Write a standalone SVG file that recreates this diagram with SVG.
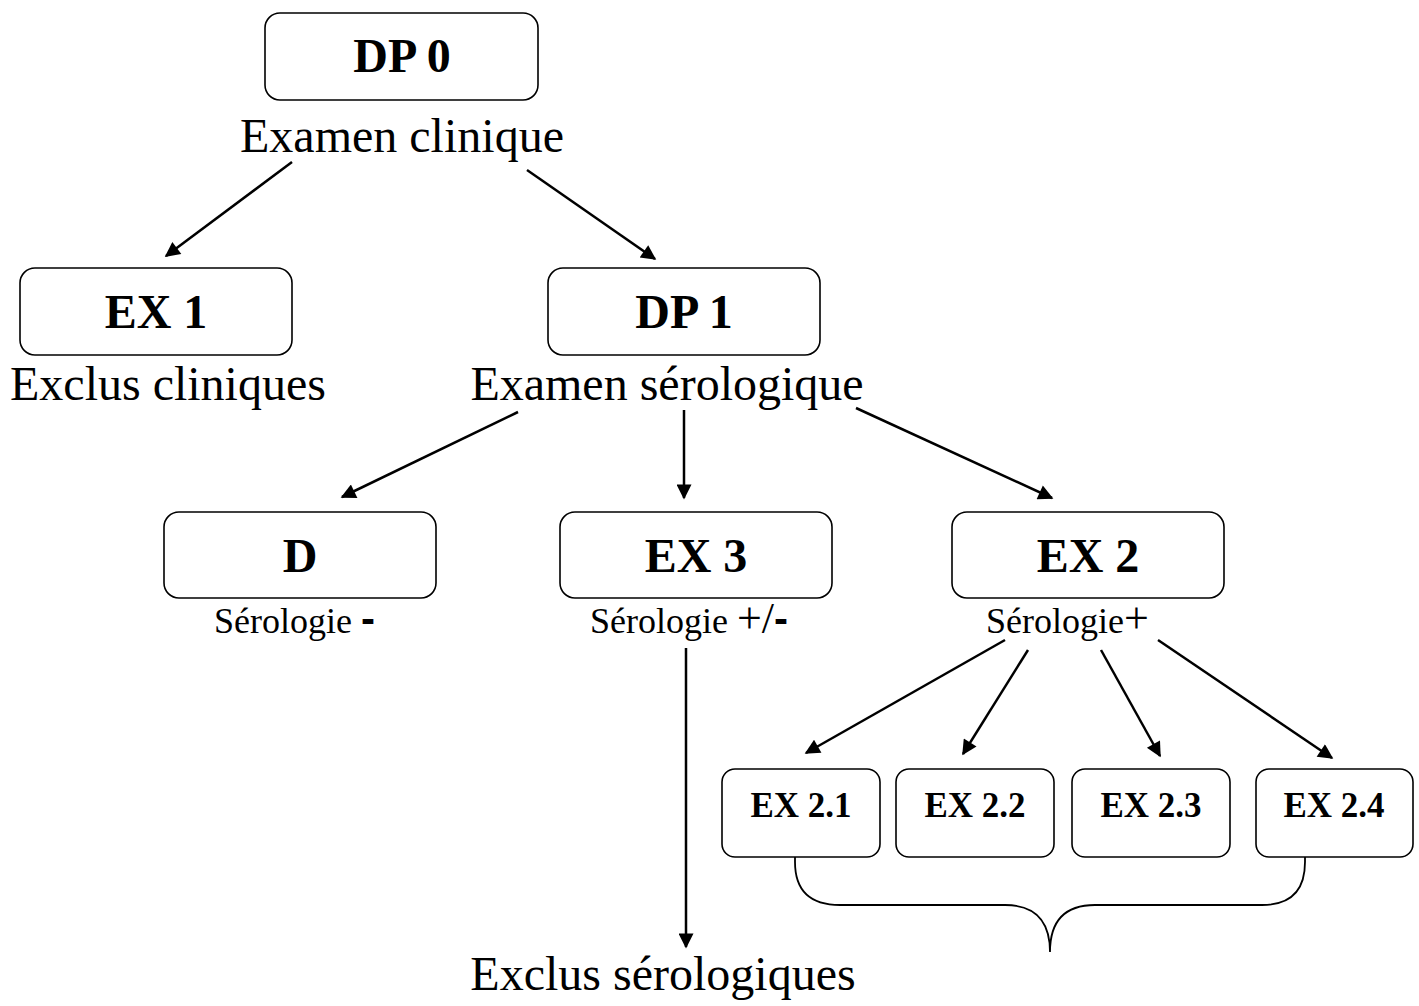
<svg xmlns="http://www.w3.org/2000/svg" width="1419" height="1006" viewBox="0 0 1419 1006">
<style>
.box{fill:#fff;stroke:#000;stroke-width:1.6}
.t{font-family:"Liberation Serif","Times New Roman",serif;fill:#000}
.b{font-weight:bold;font-size:48px;text-anchor:middle}
.sb{font-weight:bold;font-size:35px;text-anchor:middle}
.l{font-size:48px}
.s{font-size:36px}
.pm{font-size:44px}
.dash{font-size:42px;font-family:"Liberation Sans",Arial,sans-serif;font-weight:bold}
.c line{stroke:#000;stroke-width:2.5;marker-end:url(#ah)}
</style>
<defs>
<marker id="ah" viewBox="0 0 10 10" refX="9" refY="5" markerWidth="20" markerHeight="15" markerUnits="userSpaceOnUse" orient="auto">
<path d="M0,0 L10,5 L0,10 z" fill="#000"/>
</marker>
</defs>
<rect width="1419" height="1006" fill="#fff"/>
<g id="dp0"><rect class="box" x="265" y="13" width="273" height="87" rx="15"/><text class="t b" x="402" y="72">DP 0</text></g>
<text class="t l" x="402" y="152" text-anchor="middle">Examen clinique</text>
<g id="ex1"><rect class="box" x="20" y="268" width="272" height="87" rx="15"/><text class="t b" x="156" y="328">EX 1</text></g>
<text class="t l" x="10" y="400">Exclus cliniques</text>
<g id="dp1"><rect class="box" x="548" y="268" width="272" height="87" rx="15"/><text class="t b" x="684" y="328">DP 1</text></g>
<text class="t l" x="667" y="400" text-anchor="middle">Examen sérologique</text>
<g id="d"><rect class="box" x="164" y="512" width="272" height="86" rx="15"/><text class="t b" x="300" y="572">D</text></g>
<text class="t s" x="214" y="633">Sérologie <tspan class="dash">-</tspan></text>
<g id="ex3"><rect class="box" x="560" y="512" width="272" height="86" rx="15"/><text class="t b" x="696" y="572">EX 3</text></g>
<text class="t s" x="590" y="633">Sérologie <tspan class="pm">+/</tspan><tspan class="dash">-</tspan></text>
<g id="ex2"><rect class="box" x="952" y="512" width="272" height="86" rx="15"/><text class="t b" x="1088" y="572">EX 2</text></g>
<text class="t s" x="986" y="633">Sérologie<tspan class="pm">+</tspan></text>
<g id="ex21"><rect class="box" x="722" y="769" width="158" height="88" rx="13"/><text class="t sb" x="801" y="817">EX 2.1</text></g>
<g id="ex22"><rect class="box" x="896" y="769" width="158" height="88" rx="13"/><text class="t sb" x="975" y="817">EX 2.2</text></g>
<g id="ex23"><rect class="box" x="1072" y="769" width="158" height="88" rx="13"/><text class="t sb" x="1151" y="817">EX 2.3</text></g>
<g id="ex24"><rect class="box" x="1256" y="769" width="157" height="88" rx="13"/><text class="t sb" x="1334" y="817">EX 2.4</text></g>
<text class="t l" x="663" y="990" text-anchor="middle">Exclus sérologiques</text>
<g class="c">
<line x1="292" y1="162" x2="166" y2="256"/>
<line x1="527" y1="170" x2="655" y2="259"/>
<line x1="518" y1="412" x2="342" y2="497"/>
<line x1="684" y1="410" x2="684" y2="498"/>
<line x1="856" y1="408" x2="1052" y2="498"/>
<line x1="686" y1="648" x2="686" y2="947"/>
<line x1="1005" y1="640" x2="806" y2="753"/>
<line x1="1028" y1="650" x2="963" y2="754"/>
<line x1="1101" y1="650" x2="1160" y2="756"/>
<line x1="1158" y1="640" x2="1332" y2="758"/>
<path d="M795 857 L795 862 Q795 905 840 905 L1005 905 Q1050 905 1050 952 Q1050 905 1095 905 L1262 905 Q1305 905 1305 862 L1305 857" fill="none" stroke="#000" stroke-width="1.8"/>
</g>
</svg>
